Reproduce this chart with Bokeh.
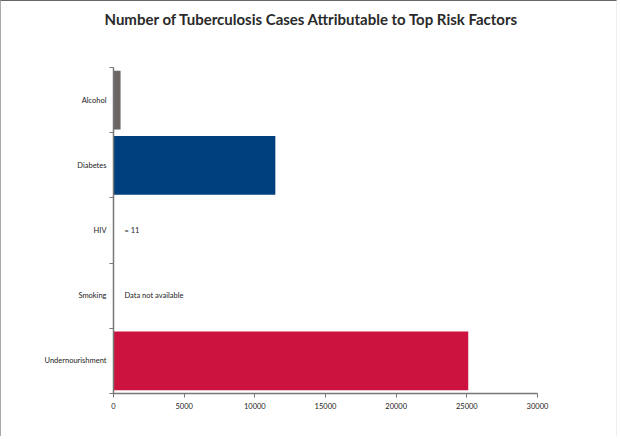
from bokeh.plotting import figure
from bokeh.models import Range1d, FixedTicker, ColumnDataSource, NumeralTickFormatter, Title
from bokeh.core.properties import value
from bokeh.embed import file_html
from bokeh.resources import INLINE

# Data (top to bottom as shown)
title_text = "Number of Tuberculosis Cases Attributable to Top Risk Factors"
categories = ["Alcohol", "Diabetes", "HIV", "Smoking", "Undernourishment"]
cases = [500, 11450, 11, 0, 25100]
colors = ["#6b6563", "#003f7e", "#ffffff", "#ffffff", "#cc133f"]
notes = ["", "", "= 11", "Data not available", ""]
x_ticks = [0, 5000, 10000, 15000, 20000, 25000, 30000]

n = len(categories)
# bottom category at 0.5, top at n-0.5
ypos = [n - 0.5 - i for i in range(n)]

src = ColumnDataSource(dict(y=ypos, cases=cases, color=colors, cat=categories, note=notes,
                            zero=[0] * n))

FONT = "Lato"

p = figure(width=617, height=436, output_backend="svg", toolbar_location=None,
           x_range=Range1d(0, 30000), y_range=Range1d(0, n),
           title=title_text,
           min_border_left=112, min_border_right=81, min_border_top=66, min_border_bottom=44,
           styles={"border-left": "1px solid #aaaaaa", "border-top": "1px solid #666666",
                   "border-right": "1px solid #eeeeee"})

# spacer between title and plot frame
p.add_layout(Title(text=" ", text_font_size="1px", standoff=37), "above")

p.title.text_font = FONT
p.title.text_font_size = "15px"
p.title.text_font_style = "bold"
p.title.text_color = "#2a2a2a"
p.title.align = "left"
p.title.offset = -9
p.title.standoff = 0

p.hbar(y="y", right="cases", left=0, height=0.9, color="color", line_color=None, source=src)
p.text(x="zero", y="y", text="note", x_offset=11, source=src, text_font=value(FONT),
       text_font_size="7.5px", text_baseline="middle", text_color="#222222")

p.grid.visible = False
p.outline_line_color = None
p.background_fill_color = "white"
p.border_fill_color = "white"

# x axis
xa = p.xaxis[0]
xa.ticker = FixedTicker(ticks=x_ticks, minor_ticks=[])
xa.formatter = NumeralTickFormatter(format="0")
xa.axis_line_color = "#777777"
xa.axis_line_width = 1.5
xa.major_tick_line_color = "#777777"
xa.major_tick_in = 0
xa.major_tick_out = 4
xa.minor_tick_line_color = None
xa.minor_tick_out = 0
xa.major_label_text_font = FONT
xa.major_label_text_font_size = "7.5px"
xa.major_label_text_color = "#222222"
xa.major_label_standoff = 5

# y axis: labels at band centers, ticks at band boundaries
ya = p.yaxis[0]
ya.ticker = FixedTicker(ticks=ypos, minor_ticks=list(range(n + 1)))
ya.major_label_overrides = {y: c for y, c in zip(ypos, categories)}
ya.axis_line_color = "#777777"
ya.axis_line_width = 1.5
ya.major_tick_line_color = None
ya.major_tick_in = 0
ya.major_tick_out = 0
ya.minor_tick_line_color = "#777777"
ya.minor_tick_in = 0
ya.minor_tick_out = 4
ya.major_label_text_font = FONT
ya.major_label_text_font_size = "7.5px"
ya.major_label_text_color = "#222222"
ya.major_label_standoff = 3

open("out.html", "w").write(file_html(p, INLINE))
